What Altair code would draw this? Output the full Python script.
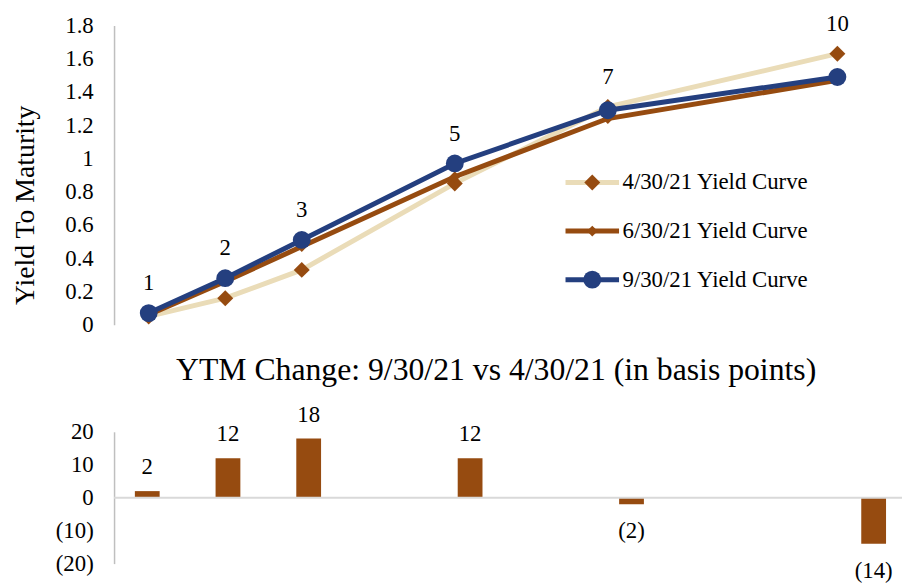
import altair as alt
import pandas as pd

maturities = [1, 2, 3, 5, 7, 10]
series_names = ["4/30/21 Yield Curve", "6/30/21 Yield Curve", "9/30/21 Yield Curve"]
ytm_apr = [0.05, 0.16, 0.33, 0.85, 1.31, 1.63]
ytm_jun = [0.06, 0.26, 0.47, 0.89, 1.24, 1.47]
ytm_sep = [0.07, 0.28, 0.51, 0.97, 1.29, 1.49]
bp_change = [2, 12, 18, 12, -2, -14]
ytm_ticks = [0, 0.2, 0.4, 0.6, 0.8, 1.0, 1.2, 1.4, 1.6, 1.8]
bp_ticks = [-20, -10, 0, 10, 20]
bottom_title = "YTM Change: 9/30/21 vs 4/30/21 (in basis points)"

FONT = "Liberation Serif, Times New Roman, DejaVu Serif, serif"
BEIGE = "#EADCB8"
BROWN = "#964B10"
NAVY = "#243F7F"
AXIS_GRAY = "#BFBFBF"

rows = []
for name, vals in zip(series_names, [ytm_apr, ytm_jun, ytm_sep]):
    for m, v in zip(maturities, vals):
        rows.append({"series": name, "line_series": name, "maturity": m, "ytm": v})
df = pd.DataFrame(rows)
bdf = pd.DataFrame({"maturity": maturities, "bp": bp_change})

top_y_scale = alt.Scale(domain=[0, 1.8], nice=False)
top_y_axis = alt.Axis(
    values=ytm_ticks, format=".1~f", title="Yield To Maturity", grid=False, ticks=False,
    domainColor=AXIS_GRAY, domainWidth=1.5, labelPadding=21, titlePadding=26, titleY=181,
    labelFontSize=23, titleFontSize=28, labelFont=FONT, titleFont=FONT, labelOverlap=False,
    titleFontWeight="normal", labelColor="black", titleColor="black",
)
x_top = alt.X("maturity:Q", scale=alt.Scale(domain=[0.547, 10.456], nice=False, zero=False), axis=None)
y_top = alt.Y("ytm:Q", scale=top_y_scale, axis=top_y_axis)

LX, LY = 471, 147
line_legend = alt.Legend(
    title=None, orient="none", legendX=LX, legendY=LY, symbolType="M-3,0H3", symbolSize=324,
    symbolStrokeWidth=5, symbolFillColor="transparent", labelFont=FONT, labelFontSize=23,
    labelColor="black", labelOffset=19, rowPadding=25, labelLimit=400,
)
pt_legend = alt.Legend(
    title=None, orient="none", legendX=LX, legendY=LY, symbolStrokeWidth=0,
    labelFont=FONT, labelFontSize=23, labelOffset=19, rowPadding=25, labelOpacity=0, labelLimit=400,
)

line_color = alt.Color("line_series:N", scale=alt.Scale(range=[BEIGE, BROWN, NAVY]), legend=line_legend)
pt_fill = alt.Fill("series:N", scale=alt.Scale(domain=series_names, range=[BROWN, BROWN, NAVY]), legend=pt_legend)
pt_shape = alt.Shape("series:N", scale=alt.Scale(domain=series_names, range=["diamond", "diamond", "circle"]), legend=pt_legend)
pt_size = alt.Size("series:N", scale=alt.Scale(type="ordinal", domain=series_names, range=[260, 120, 324]), legend=pt_legend)

base = alt.Chart(df).encode(x=x_top, y=y_top)
layers = []
for s in series_names:
    sub = base.transform_filter(alt.datum.series == s)
    layers.append(sub.mark_line(strokeWidth=5).encode(color=line_color))
    layers.append(sub.mark_point(filled=True, opacity=1, strokeWidth=0).encode(fill=pt_fill, shape=pt_shape, size=pt_size))

mat_labels = alt.Chart(df).transform_aggregate(ymax="max(ytm)", groupby=["maturity"]).mark_text(
    dy=-30, fontSize=23, font=FONT, color="black"
).encode(x=x_top, y=alt.Y("ymax:Q", scale=top_y_scale, axis=top_y_axis), text=alt.Text("maturity:Q", format="d"))

top = alt.layer(*layers, mat_labels).properties(width=765, height=302)

bot_y_scale = alt.Scale(domain=[-20, 20], nice=False)
bot_y_axis = alt.Axis(
    values=bp_ticks, title=None, grid=False, ticks=False, domainColor=AXIS_GRAY, domainWidth=1.5,
    labelPadding=21, labelFontSize=23, labelFont=FONT, labelColor="black", labelOverlap=False,
    labelExpr="datum.value < 0 ? '(' + (-datum.value) + ')' : '' + datum.value",
)
x_bot = alt.X("maturity:Q", scale=alt.Scale(domain=[0.65, 10.29], nice=False, zero=False), axis=None)
y_bot = alt.Y("bp:Q", scale=bot_y_scale, axis=bot_y_axis)
bbase = alt.Chart(bdf).encode(x=x_bot, y=y_bot).transform_calculate(
    lab="datum.bp < 0 ? '(' + (-datum.bp) + ')' : '' + datum.bp"
)
bars = bbase.mark_bar(size=25, color=BROWN)
zero = alt.Chart(pd.DataFrame({"z": [0]})).mark_rule(color="#D9D9D9", strokeWidth=2).encode(
    y=alt.Y("z:Q", scale=bot_y_scale, axis=bot_y_axis)
)
pos_lab = bbase.transform_filter(alt.datum.bp >= 0).mark_text(
    baseline="bottom", dy=-12, fontSize=23, font=FONT, color="black"
).encode(text="lab:N")
neg_lab = bbase.transform_filter(alt.datum.bp < 0).mark_text(
    baseline="top", dy=16, fontSize=23, font=FONT, color="black"
).encode(text="lab:N")

bottom = alt.layer(bars, zero, pos_lab, neg_lab).properties(
    width=795, height=133,
    title=alt.TitleParams(bottom_title, font=FONT, fontSize=32, fontWeight="normal", color="black",
                          anchor="middle", offset=17, dx=-12),
)

chart = alt.vconcat(top, bottom, spacing=17).configure(
    background="white", font=FONT, view=alt.ViewConfig(strokeWidth=0, stroke="transparent")
).properties(padding={"left": 3, "top": 2, "right": 0, "bottom": 0})

chart.save("out.html", embed_options={"renderer": "svg", "actions": False})
